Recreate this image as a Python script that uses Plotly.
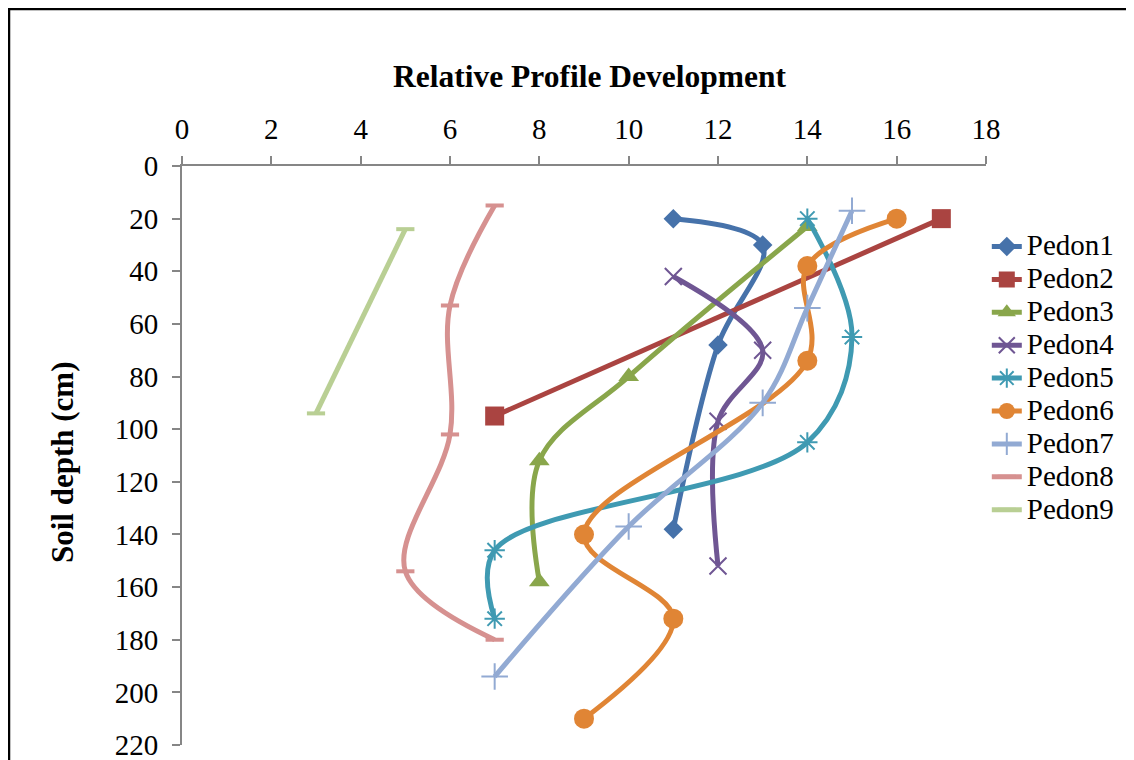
import plotly.graph_objects as go

# ---- data ----
names = ["Pedon1", "Pedon2", "Pedon3", "Pedon4", "Pedon5", "Pedon6", "Pedon7", "Pedon8", "Pedon9"]
p1_x = [11, 13, 12, 11];            p1_y = [20, 30, 68, 138]
p2_x = [17, 7];                     p2_y = [20, 95]
p3_x = [14, 10, 8, 8];              p3_y = [23, 80, 112, 158]
p4_x = [11, 13, 12, 12];            p4_y = [42, 70, 97, 152]
p5_x = [14, 15, 14, 7, 7];          p5_y = [20, 65, 105, 146, 172]
p6_x = [16, 14, 14, 9, 11, 9];      p6_y = [20, 38, 74, 140, 172, 210]
p7_x = [15, 14, 13, 10, 7];         p7_y = [17, 54, 90, 137, 194]
p8_x = [7, 6, 6, 5, 7];             p8_y = [15, 53, 102, 154, 180]
p9_x = [5, 3];                      p9_y = [24, 94]

xs = [p1_x, p2_x, p3_x, p4_x, p5_x, p6_x, p7_x, p8_x, p9_x]
ys = [p1_y, p2_y, p3_y, p4_y, p5_y, p6_y, p7_y, p8_y, p9_y]

x_ticks = list(range(0, 19, 2))
y_ticks = list(range(0, 221, 20))

colors = ["#4672AA", "#AA4441", "#89A64B", "#6F5693", "#3F9AB2", "#E08535", "#92AAD3", "#D69190", "#B9CF94"]
symbols = ["diamond", "square", "triangle-up", "x-thin-open", "asterisk-open", "circle",
           "cross-thin-open", "line-ew-open", "line-ew-open"]
sizes = [15, 19, 18, 17, 17, 20, 19, 13, 13]

font_family = "Liberation Serif, Times New Roman, serif"

fig = go.Figure()
for i in range(9):
    is_open = "open" in symbols[i]
    fig.add_trace(go.Scatter(
        x=xs[i], y=ys[i],
        name='<span style="font-size:29px">' + names[i] + '</span>',
        mode="lines+markers",
        line=dict(color=colors[i], width=5, shape="spline", smoothing=1.0),
        marker=dict(symbol=symbols[i], size=sizes[i], color=colors[i],
                    line=dict(color=colors[i], width=(4 if i >= 7 else 2) if is_open else 0)),
    ))

# page is offset by 8px body margin; plot area targets page x 182..986, y 166..745
fig.update_layout(
    width=1126, height=752,
    margin=dict(l=174, r=148, t=158, b=15),
    paper_bgcolor="white", plot_bgcolor="white",
    font=dict(family=font_family, size=29, color="black"),
    showlegend=True,
    legend=dict(x=1.001, y=0.898, xanchor="left", yanchor="top",
                font=dict(family=font_family, size=23, color="black"),
                bgcolor="rgba(0,0,0,0)", tracegroupgap=0, itemwidth=30),
    xaxis=dict(range=[0, 18], side="top", tickmode="array", tickvals=x_ticks,
               showgrid=False, zeroline=False, showline=True, linecolor="#868686", linewidth=2,
               ticks="outside", ticklen=8, tickcolor="#868686", tickwidth=1.5,
               ticklabelstandoff=5, automargin=False, ticklabeloverflow="allow",
               tickfont=dict(family=font_family, size=29)),
    yaxis=dict(range=[220, 0], tickmode="array", tickvals=y_ticks,
               showgrid=False, zeroline=False, showline=True, linecolor="#868686", linewidth=2,
               ticks="outside", ticklen=8, tickcolor="#868686", tickwidth=1.5,
               ticklabelstandoff=8, automargin=False, ticklabeloverflow="allow",
               tickfont=dict(family=font_family, size=29)),
    annotations=[
        dict(text="<b>Relative Profile Development</b>", xref="paper", yref="paper",
             x=(590 - 182) / 804, y=(745 - 77) / 579, xanchor="center", yanchor="middle",
             showarrow=False, font=dict(family=font_family, size=31.5)),
        dict(text="<b>Soil depth (cm)</b>", xref="paper", yref="paper",
             x=(62 - 182) / 804, y=(745 - 462) / 579, xanchor="center", yanchor="middle",
             textangle=-90, showarrow=False, font=dict(family=font_family, size=31)),
    ],
    shapes=[
        dict(type="rect", xref="paper", yref="paper",
             x0=(9 - 182) / 804, x1=1.3, y0=-0.2, y1=(745 - 9) / 579,
             line=dict(color="black", width=2.5), fillcolor="rgba(0,0,0,0)", layer="below"),
    ],
)

fig.write_html("out.html")
